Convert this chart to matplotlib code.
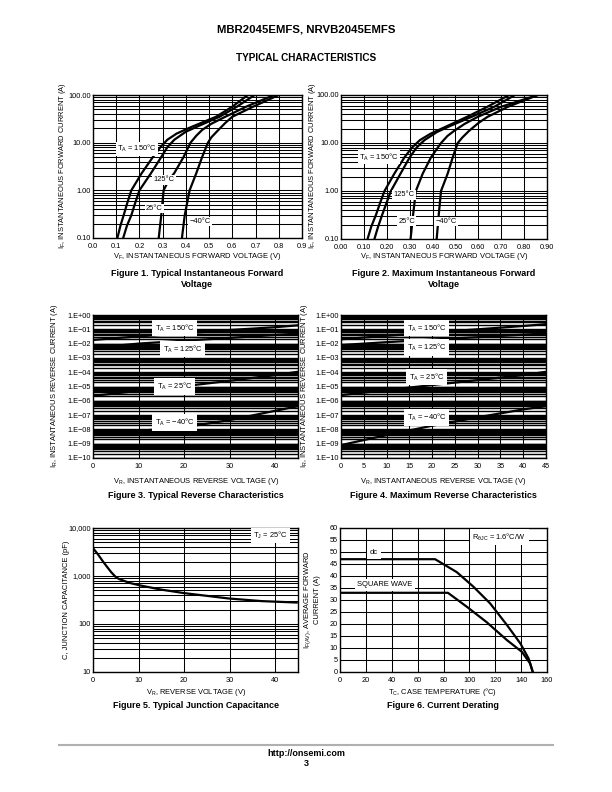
import numpy as np
import matplotlib
matplotlib.use("Agg")
import matplotlib.pyplot as plt
from matplotlib.ticker import FixedLocator, LogLocator, NullFormatter

plt.rcParams['font.family'] = ['Liberation Sans', 'DejaVu Sans']
plt.rcParams['mathtext.fontset'] = 'custom'
plt.rcParams['mathtext.rm'] = 'Liberation Sans'
plt.rcParams['mathtext.it'] = 'Liberation Sans'

# ---------------- data ----------------
# Figure 1: typical forward (V, A)
f1_150_v = [0.105, 0.118, 0.132, 0.148, 0.165, 0.21, 0.258, 0.29, 0.32, 0.36, 0.42, 0.53, 0.60, 0.667]
f1_150_i = [0.1, 0.18, 0.3, 0.55, 1.0, 2.3, 5.0, 8.0, 11.5, 15.5, 21.0, 35.0, 57.0, 100.0]
f1_125_v = [0.13, 0.146, 0.165, 0.182, 0.20, 0.25, 0.294, 0.32, 0.35, 0.40, 0.46, 0.545, 0.62, 0.696]
f1_125_i = [0.1, 0.18, 0.3, 0.55, 1.0, 2.3, 5.0, 8.0, 11.5, 17.0, 23.0, 35.0, 57.0, 100.0]
f1_25_v = [0.283, 0.294, 0.304, 0.325, 0.35, 0.39, 0.42, 0.445, 0.47, 0.51, 0.57, 0.66, 0.78]
f1_25_i = [0.1, 0.3, 1.0, 1.6, 2.3, 5.0, 10.0, 14.0, 18.5, 25.0, 35.0, 57.0, 100.0]
f1_m40_v = [0.383, 0.395, 0.416, 0.445, 0.47, 0.495, 0.51, 0.54, 0.57, 0.60, 0.69, 0.80]
f1_m40_i = [0.1, 0.3, 1.0, 2.3, 5.0, 10.0, 13.0, 18.5, 26.0, 35.0, 57.0, 100.0]

# Figure 2: maximum forward
f2_150_v = [0.116, 0.132, 0.153, 0.17, 0.19, 0.233, 0.277, 0.31, 0.345, 0.39, 0.45, 0.55, 0.64, 0.735]
f2_150_i = [0.1, 0.18, 0.32, 0.55, 1.0, 2.3, 5.0, 8.0, 11.5, 15.5, 21.0, 35.0, 57.0, 100.0]
f2_125_v = [0.146, 0.162, 0.18, 0.198, 0.218, 0.26, 0.30, 0.33, 0.365, 0.42, 0.48, 0.57, 0.67, 0.76]
f2_125_i = [0.1, 0.18, 0.32, 0.55, 1.0, 2.3, 5.0, 8.0, 11.5, 17.0, 23.0, 35.0, 57.0, 100.0]
f2_25_v = [0.304, 0.315, 0.327, 0.357, 0.393, 0.437, 0.465, 0.495, 0.54, 0.597, 0.70, 0.86]
f2_25_i = [0.1, 0.32, 1.0, 2.3, 5.0, 10.0, 14.0, 18.0, 25.0, 35.0, 57.0, 100.0]
f2_m40_v = [0.418, 0.427, 0.437, 0.466, 0.488, 0.51, 0.53, 0.56, 0.60, 0.64, 0.73, 0.86]
f2_m40_i = [0.1, 0.32, 1.0, 2.3, 5.0, 10.0, 13.0, 18.0, 26.0, 35.0, 57.0, 100.0]

# Figure 3: typical reverse (V, A)
rev_v = [0, 10, 20, 30, 40, 45]
f3_150 = [1.8e-2, 3.2e-2, 5.2e-2, 8.9e-2, 1.4e-1, 1.9e-1]
f3_125 = [5.0e-3, 1.0e-2, 1.6e-2, 2.5e-2, 4.0e-2, 5.0e-2]
f3_25 = [2.2e-6, 5.0e-6, 1.05e-5, 2.5e-5, 6.3e-5, 1.07e-4]
f3_m40 = [4.0e-9, 7.9e-9, 1.4e-8, 4.5e-8, 2.0e-7, 4.2e-7]

# Figure 4: maximum reverse
f4_150 = [2.0e-2, 3.5e-2, 6.0e-2, 1.0e-1, 1.7e-1, 2.3e-1]
f4_125 = [7.9e-3, 1.26e-2, 1.9e-2, 2.8e-2, 4.2e-2, 5.1e-2]
f4_25 = [2.5e-6, 5.6e-6, 1.26e-5, 2.8e-5, 6.3e-5, 1.07e-4]
f4_m40 = [8.0e-10, 4.0e-9, 1.8e-8, 7.0e-8, 2.5e-7, 4.2e-7]

# Figure 5: junction capacitance (V, pF)
cap_v = [0, 1.0, 2.2, 3.2, 4.0, 5.0, 5.8, 8.0, 10.2, 15.0, 20.0, 29.8, 37.0, 44.7]
cap_c = [3800, 2900, 2000, 1500, 1200, 950, 860, 720, 640, 520, 440, 340, 300, 280]

# Figure 6: current derating (degC, A)
dc_t = [0, 73.5, 90.3, 103, 116, 129, 139.4, 145.8, 149]
dc_i = [47.0, 47.0, 41.6, 35.6, 28.6, 19.6, 11.9, 5.6, 0.0]
sq_t = [0, 83.4, 98, 113.5, 129, 140.6, 147, 149]
sq_i = [33.0, 33.0, 27.2, 20.7, 13.3, 8.4, 3.5, 0.0]

fwd_xt1 = ["0.0", "0.1", "0.2", "0.3", "0.4", "0.5", "0.6", "0.7", "0.8", "0.9"]
fwd_xt2 = ["0.00", "0.10", "0.20", "0.30", "0.40", "0.50", "0.60", "0.70", "0.80", "0.90"]
fwd_yt = ["0.10", "1.00", "10.00", "100.00"]
rev_yt = ["1.E\u221210", "1.E\u221209", "1.E\u221208", "1.E\u221207", "1.E\u221206",
          "1.E\u221205", "1.E\u221204", "1.E\u221203", "1.E\u221202", "1.E\u221201", "1.E+00"]
cap_yt = ["10", "100", "1,000", "10,000"]

# ---------------- layout ----------------
W, H = 612, 792
fig = plt.figure(figsize=(6.12, 7.92), dpi=100)

def rect(l, t, r, b):
    return [l / W, 1 - b / H, (r - l) / W, (b - t) / H]

def ftext(x, y, s, **kw):
    fig.text(x / W, 1 - y / H, s, **kw)

TS = 5.3   # tick size
LS = 5.4   # label size
CS = 6.5   # caption size
LW = 1.6   # curve width
GW = 0.75  # grid width

def style(ax):
    ax.tick_params(length=0, labelsize=TS)
    ax.tick_params(axis='x', pad=3.5)
    ax.tick_params(axis='y', pad=1.5)
    for s in ax.spines.values():
        s.set_linewidth(1.0)
        s.set_color('black')
    ax.set_axisbelow(True)

def lab(ax, x, y, s, pad=0.8):
    ax.text(x, y, s, fontsize=LS, ha='center', va='center',
            bbox=dict(facecolor='white', edgecolor='none', pad=pad), zorder=5)

ftext(306, 30, "MBR2045EMFS, NRVB2045EMFS", fontsize=8.2, fontweight='bold', ha='center', va='center')
ftext(306, 58, "TYPICAL CHARACTERISTICS", fontsize=7.2, fontweight='bold', ha='center', va='center')

# ---- Fig 1 & 2 ----
def forward(ax, curves, xt, labels):
    for v, i in curves:
        ax.plot(v, i, color='black', lw=LW, zorder=3, solid_joinstyle='round')
    ax.set_yscale('log')
    ax.set_xlim(0, 0.9)
    ax.set_ylim(0.1, 100)
    ax.xaxis.set_major_locator(FixedLocator(np.arange(10) * 0.1))
    ax.set_xticklabels(xt)
    ax.yaxis.set_major_locator(FixedLocator([0.1, 1, 10, 100]))
    ax.set_yticklabels(fwd_yt)
    ax.yaxis.set_minor_locator(LogLocator(base=10, subs=np.arange(2, 10)))
    ax.yaxis.set_minor_formatter(NullFormatter())
    ax.grid(True, which='both', axis='y', color='black', lw=GW)
    ax.grid(True, which='major', axis='x', color='black', lw=GW)
    style(ax)
    ax.tick_params(which='minor', length=0)
    for x, y, s in labels:
        lab(ax, x, y, s)

ax1 = fig.add_axes(rect(93, 95, 302, 238))
forward(ax1, [(f1_150_v, f1_150_i), (f1_125_v, f1_125_i), (f1_25_v, f1_25_i), (f1_m40_v, f1_m40_i)],
        fwd_xt1,
        [(0.19, 7.4, "T$_\\mathregular{A}$ = 150°C"), (0.306, 1.65, "125°C"),
         (0.263, 0.41, "25°C"), (0.46, 0.22, "\u221240°C")])
ax2 = fig.add_axes(rect(341, 95, 547, 239))
forward(ax2, [(f2_150_v, f2_150_i), (f2_125_v, f2_125_i), (f2_25_v, f2_25_i), (f2_m40_v, f2_m40_i)],
        fwd_xt2,
        [(0.166, 5.1, "T$_\\mathregular{A}$ = 150°C"), (0.275, 0.83, "125°C"),
         (0.288, 0.237, "25°C"), (0.459, 0.23, "\u221240°C")])

for xc, xl in [(197, 63), (444, 313)]:
    ftext(xc, 257, "V$_\\mathregular{F}$, INSTANTANEOUS FORWARD VOLTAGE (V)", fontsize=LS, ha='center', va='center')
    ftext(xl, 166, "I$_\\mathregular{F}$, INSTANTANEOUS FORWARD CURRENT (A)", fontsize=LS,
          ha='center', va='center', rotation=90)
ftext(197, 279, "Figure 1. Typical Instantaneous Forward\nVoltage", fontsize=CS, fontweight='bold',
      ha='center', va='center', linespacing=1.3)
ftext(444, 279, "Figure 2. Maximum Instantaneous Forward\nVoltage", fontsize=CS, fontweight='bold',
      ha='center', va='center', linespacing=1.3)

# ---- Fig 3 & 4 ----
def reverse(ax, series, xticks, labels):
    for s in series:
        ax.plot(rev_v, s, color='black', lw=LW, zorder=3)
    ax.set_yscale('log')
    ax.set_xlim(0, 45)
    ax.set_ylim(1e-10, 1)
    ax.xaxis.set_major_locator(FixedLocator(xticks))
    ax.set_xticklabels([str(t) for t in xticks])
    ax.yaxis.set_major_locator(FixedLocator([10.0 ** k for k in range(-10, 1)]))
    ax.set_yticklabels(rev_yt)
    ax.yaxis.set_minor_locator(LogLocator(base=10, subs=np.arange(2, 10), numticks=20))
    ax.yaxis.set_minor_formatter(NullFormatter())
    ax.grid(True, which='both', axis='y', color='black', lw=1.0)
    ax.grid(True, which='major', axis='x', color='black', lw=GW)
    style(ax)
    ax.tick_params(which='minor', length=0)
    for x, y, s in labels:
        lab(ax, x, y, s, pad=2.0)

ax3 = fig.add_axes(rect(93, 315, 298, 458))
reverse(ax3, [f3_150, f3_125, f3_25, f3_m40], [0, 10, 20, 30, 40],
        [(17.9, 10 ** -0.91, "T$_\\mathregular{A}$ = 150°C"), (19.7, 10 ** -2.38, "T$_\\mathregular{A}$ = 125°C"),
         (17.9, 10 ** -4.98, "T$_\\mathregular{A}$ = 25°C"), (17.9, 10 ** -7.5, "T$_\\mathregular{A}$ = \u221240°C")])
ax4 = fig.add_axes(rect(341, 315, 546, 458))
reverse(ax4, [f4_150, f4_125, f4_25, f4_m40], list(range(0, 50, 5)),
        [(18.8, 10 ** -0.91, "T$_\\mathregular{A}$ = 150°C"), (18.8, 10 ** -2.27, "T$_\\mathregular{A}$ = 125°C"),
         (18.8, 10 ** -4.34, "T$_\\mathregular{A}$ = 25°C"), (18.8, 10 ** -7.15, "T$_\\mathregular{A}$ = \u221240°C")])
for xc, xl in [(196, 55), (443, 304)]:
    ftext(xc, 481, "V$_\\mathregular{R}$, INSTANTANEOUS REVERSE VOLTAGE (V)", fontsize=LS, ha='center', va='center')
    ftext(xl, 386, "I$_\\mathregular{R}$, INSTANTANEOUS REVERSE CURRENT (A)", fontsize=LS,
          ha='center', va='center', rotation=90)
ftext(196, 495, "Figure 3. Typical Reverse Characteristics", fontsize=CS, fontweight='bold', ha='center', va='center')
ftext(443, 495, "Figure 4. Maximum Reverse Characteristics", fontsize=CS, fontweight='bold', ha='center', va='center')

# ---- Fig 5 ----
ax5 = fig.add_axes(rect(93, 528, 298, 672))
ax5.plot(cap_v, cap_c, color='black', lw=LW, zorder=3)
ax5.set_yscale('log')
ax5.set_xlim(0, 45)
ax5.set_ylim(10, 10000)
ax5.xaxis.set_major_locator(FixedLocator([0, 10, 20, 30, 40]))
ax5.set_xticklabels(["0", "10", "20", "30", "40"])
ax5.yaxis.set_major_locator(FixedLocator([10, 100, 1000, 10000]))
ax5.set_yticklabels(cap_yt)
ax5.yaxis.set_minor_locator(LogLocator(base=10, subs=np.arange(2, 10), numticks=20))
ax5.yaxis.set_minor_formatter(NullFormatter())
ax5.grid(True, which='both', axis='y', color='black', lw=GW)
ax5.grid(True, which='major', axis='x', color='black', lw=GW)
style(ax5)
ax5.tick_params(which='minor', length=0)
lab(ax5, 39, 10 ** 3.85, "T$_\\mathregular{J}$ = 25°C", pad=1.5)
ftext(196, 692, "V$_\\mathregular{R}$, REVERSE VOLTAGE (V)", fontsize=LS, ha='center', va='center')
ftext(67, 600, "C, JUNCTION CAPACITANCE (pF)", fontsize=LS, ha='center', va='center', rotation=90)
ftext(196, 706, "Figure 5. Typical Junction Capacitance", fontsize=CS, fontweight='bold', ha='center', va='center')

# ---- Fig 6 ----
ax6 = fig.add_axes(rect(340, 528, 547, 672))
ax6.plot(dc_t, dc_i, color='black', lw=LW, zorder=3)
ax6.plot(sq_t, sq_i, color='black', lw=LW, zorder=3)
ax6.set_xlim(0, 160)
ax6.set_ylim(0, 60)
ax6.xaxis.set_major_locator(FixedLocator(list(range(0, 161, 20))))
ax6.yaxis.set_major_locator(FixedLocator(list(range(0, 61, 5))))
ax6.grid(True, which='major', color='black', lw=GW)
style(ax6)
lab(ax6, 26.3, 49.6, "dc", pad=2.0)
lab(ax6, 34.8, 36.3, "SQUARE WAVE", pad=2.0)
lab(ax6, 123, 56.2, "R$_\\mathregular{\u03b8JC}$ = 1.6°C/W", pad=2.0)
ftext(443, 692, "T$_\\mathregular{C}$, CASE TEMPERATURE (°C)", fontsize=LS, ha='center', va='center')
ftext(312, 600, "I$_\\mathregular{F(AV)}$, AVERAGE FORWARD\nCURRENT (A)", fontsize=LS, ha='center', va='center',
      rotation=90, linespacing=1.2)
ftext(443, 706, "Figure 6. Current Derating", fontsize=CS, fontweight='bold', ha='center', va='center')

# ---- footer ----
fig.add_artist(plt.Line2D([59 / W, 553 / W], [1 - 745 / H, 1 - 745 / H], color='#b0b0b0', lw=1.5))
ftext(306, 753, "http://onsemi.com", fontsize=6.5, fontweight='bold', ha='center', va='center')
ftext(306, 764, "3", fontsize=6.5, fontweight='bold', ha='center', va='center')

fig.savefig("out.png", dpi=100)
